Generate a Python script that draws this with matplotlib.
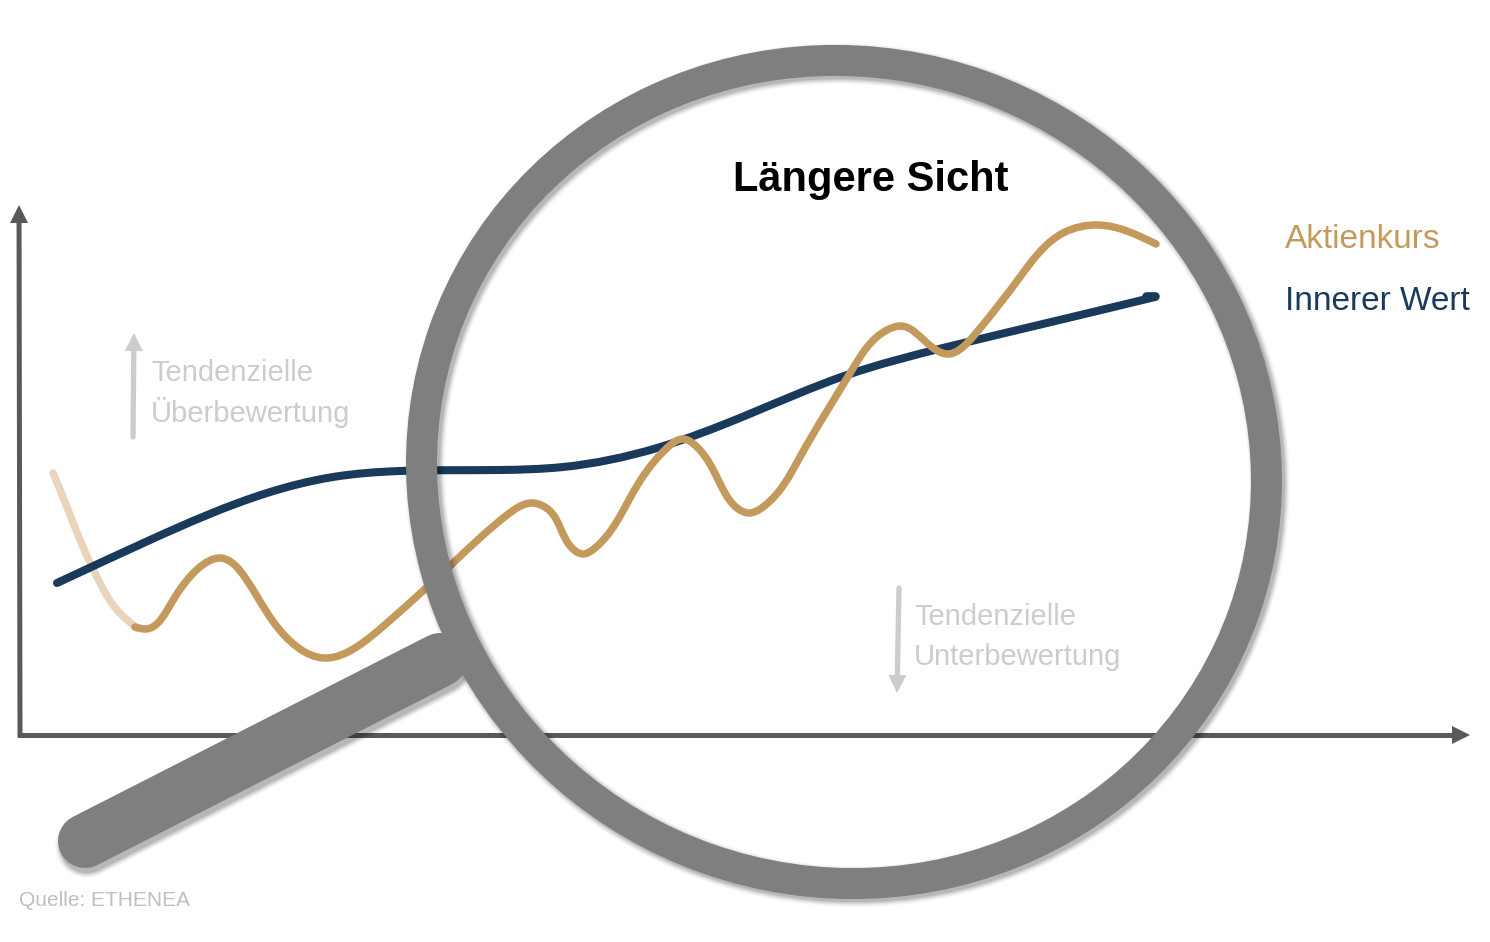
import numpy as np
import matplotlib
matplotlib.use("Agg")
import matplotlib.pyplot as plt
from matplotlib.patches import Ellipse, Polygon, PathPatch
from matplotlib.path import Path

plt.rcParams['font.family'] = ['Liberation Sans', 'DejaVu Sans']

# values, in image pixels
faded_x = [53, 67, 83, 100, 117, 137]
faded_y = [473, 507, 547, 583, 610, 628]
price_x = [135, 145, 175, 220, 272, 325, 387, 452, 507, 533, 550, 572, 583, 595, 630, 667, 683, 697, 725, 737, 749,
           763, 800, 852, 887, 901, 927, 947, 977, 1020, 1063, 1098, 1156]
price_y = [627, 629, 597, 558, 620, 658, 623, 564, 515, 503, 511, 548, 554, 548, 498, 448, 439, 447, 493, 508, 513,
           507, 457, 370, 330, 326, 343, 354, 332, 277, 233, 225, 244]
value_x = [57, 150, 267, 333, 400, 500, 563, 657, 747, 847, 947, 1047, 1155]
value_y = [583, 540, 493, 477, 471, 470, 467, 448, 415, 375, 347, 323, 297]

NAVY = '#1a3a5c'
GOLD = '#c49a5c'
GOLD_FADED = '#e8d5bc'
GREY = '#7f7f7f'
AXIS = '#595959'
LIGHT = '#cccccc'


def smooth_path(xs, ys):
    # cubic spline through the read points (chord length), written as bezier segments
    p = np.column_stack([xs, ys]).astype(float)
    n = len(p)
    h = np.linalg.norm(np.diff(p, axis=0), axis=1)
    m = np.zeros((n, n))
    rhs = np.zeros((n, 2))
    m[0, :2] = [2, 1]
    rhs[0] = 3 * (p[1] - p[0]) / h[0]
    m[-1, -2:] = [1, 2]
    rhs[-1] = 3 * (p[-1] - p[-2]) / h[-1]
    for i in range(1, n - 1):
        m[i, i - 1:i + 2] = [h[i], 2 * (h[i - 1] + h[i]), h[i - 1]]
        rhs[i] = 3 * (h[i] * (p[i] - p[i - 1]) / h[i - 1] + h[i - 1] * (p[i + 1] - p[i]) / h[i])
    d = np.linalg.solve(m, rhs)
    verts = [p[0]]
    codes = [Path.MOVETO]
    for i in range(n - 1):
        verts += [p[i] + d[i] * h[i] / 3, p[i + 1] - d[i + 1] * h[i] / 3, p[i + 1]]
        codes += [Path.CURVE4] * 3
    return Path(verts, codes)


def curve(ax, xs, ys, color, lw, z):
    ax.add_patch(PathPatch(smooth_path(xs, ys), fc='none', ec=color, lw=lw, capstyle='round', zorder=z))


def arrow(ax, start, end, color, lw, head_len, head_half, cap):
    # shaft plus a solid triangle, the tip lands exactly on end
    start = np.array(start, float)
    end = np.array(end, float)
    d = (end - start) / np.linalg.norm(end - start)
    n = np.array([-d[1], d[0]])
    base = end - d * head_len
    ax.plot([start[0], base[0]], [start[1], base[1]], color=color, lw=lw, solid_capstyle=cap, zorder=2)
    ax.add_patch(Polygon([end, base + n * head_half, base - n * head_half], fc=color, ec='none', zorder=2))


fig = plt.figure(figsize=(14.9, 9.42), dpi=100)
ax = fig.add_axes([0, 0, 1, 1])
ax.set_xlim(0, 1490)
ax.set_ylim(942, 0)
ax.axis('off')

# axes
arrow(ax, (20, 735), (19, 205), AXIS, 3.6, 18, 9, 'projecting')
arrow(ax, (20, 735), (1470, 735), AXIS, 3.6, 18, 9, 'projecting')

# hints
arrow(ax, (133, 437), (134, 333), LIGHT, 3.8, 18, 9, 'round')
arrow(ax, (899, 588), (897, 693), LIGHT, 3.8, 18, 9, 'round')
ax.text(151, 373, 'Tendenzielle', color=LIGHT, fontsize=21, va='center')
ax.text(151, 412, 'Überbewertung', color=LIGHT, fontsize=21, va='center')
ax.text(914, 617, 'Tendenzielle', color=LIGHT, fontsize=21, va='center')
ax.text(914, 657, 'Unterbewertung', color=LIGHT, fontsize=21, va='center')

# lines
curve(ax, faded_x, faded_y, GOLD_FADED, 5.4, 3)
curve(ax, price_x, price_y, GOLD, 5.4, 4)
curve(ax, value_x, value_y, NAVY, 5.8, 3.5)
ax.plot([1146, 1155], [296, 296], color=NAVY, lw=6.2, solid_capstyle='round', zorder=3.5)

# magnifier: soft shadows first, then handle and ring
for extra, alpha in [(10, 0.025), (8, 0.035), (6, 0.045), (4, 0.06), (2, 0.07), (0, 0.08)]:
    ax.plot([87, 442], [846, 665], color='black', lw=(54 + extra) * 0.72, alpha=alpha,
            solid_capstyle='round', zorder=6)
    ax.add_patch(Ellipse((847, 475), 848, 820, angle=19.4, fc='none', ec='black',
                         lw=(31 + extra) * 0.72, alpha=alpha, zorder=6))
ax.plot([85, 440], [841, 660], color=GREY, lw=54 * 0.72, solid_capstyle='round', zorder=7)
ax.add_patch(Ellipse((844, 472), 848, 820, angle=19.4, fc='none', ec=GREY, lw=31 * 0.72, zorder=8))

# labels
ax.text(871, 180, 'Längere Sicht', color='black', fontsize=30, fontweight='bold', ha='center', va='center', zorder=9)
ax.text(1285, 239, 'Aktienkurs', color=GOLD, fontsize=24, va='center')
ax.text(1285, 301, 'Innerer Wert', color=NAVY, fontsize=24, va='center')
ax.text(19, 901, 'Quelle: ETHENEA', color='#bfbfbf', fontsize=15, va='center')

fig.savefig('out.png', dpi=100)
